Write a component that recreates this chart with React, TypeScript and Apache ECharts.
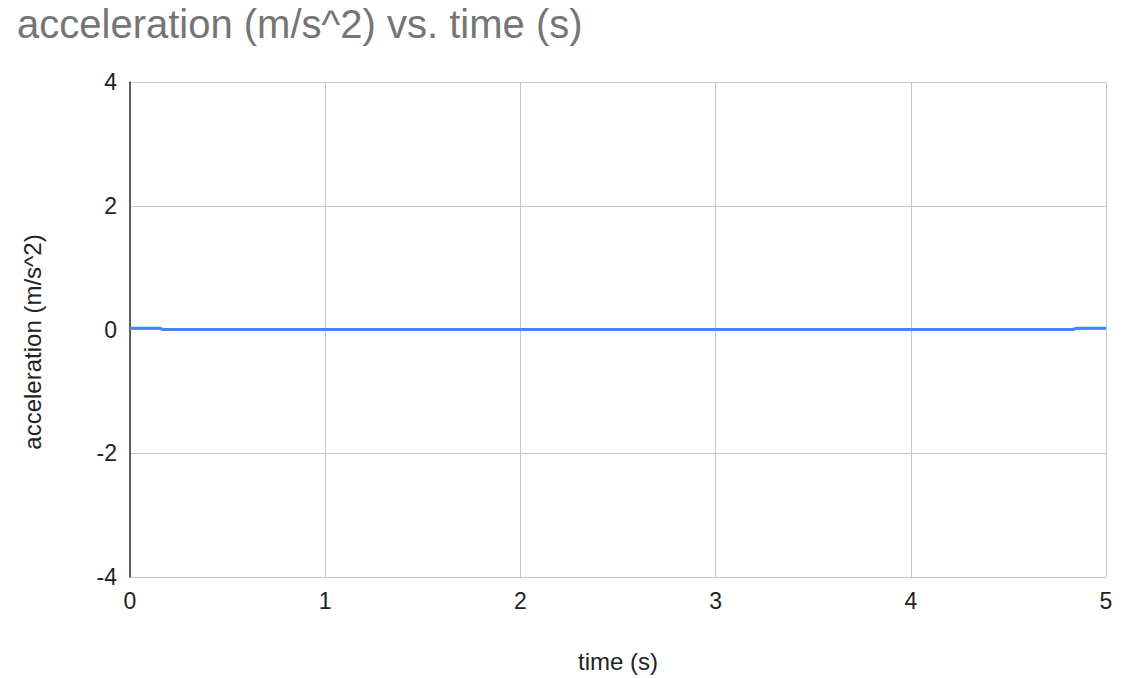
import React, { useEffect, useRef } from "react";
import * as echarts from "echarts";

const titleText = "acceleration (m/s^2) vs. time (s)";
const xName = "time (s)";
const yName = "acceleration (m/s^2)";
const times = [0, 0.15, 0.17, 4.83, 4.85, 5];
const accel = [0.02, 0.02, 0, 0, 0.02, 0.02];

const FONT = "'Liberation Sans', Arial, sans-serif";

export default function App() {
  const ref = useRef<HTMLDivElement>(null);
  useEffect(() => {
    if (!ref.current) return;
    const chart = echarts.init(ref.current, null, { renderer: "svg" });
    chart.setOption({
      animation: false,
      backgroundColor: "#fff",
      title: {
        text: titleText,
        left: 17,
        top: 4,
        padding: 0,
        textStyle: { fontFamily: FONT, fontSize: 40, fontWeight: "normal", color: "#757575" },
      },
      grid: { left: 130, right: 19, top: 82, bottom: 101, containLabel: false },
      xAxis: {
        type: "value",
        min: 0,
        max: 5,
        interval: 1,
        name: xName,
        nameLocation: "middle",
        nameGap: 72,
        nameTextStyle: { fontFamily: FONT, fontSize: 24, color: "#222" },
        axisLine: { show: false },
        axisTick: { show: false },
        axisLabel: { fontFamily: FONT, fontSize: 23, color: "#222", margin: 12 },
        splitLine: { show: true, lineStyle: { color: "#c8c8c8", width: 1 } },
      },
      yAxis: {
        type: "value",
        min: -4,
        max: 4,
        interval: 2,
        axisLine: { show: true, onZero: false, lineStyle: { color: "#333", width: 1.5 } },
        axisTick: { show: false },
        axisLabel: { fontFamily: FONT, fontSize: 23, color: "#222", margin: 13 },
        splitLine: { show: true, lineStyle: { color: "#c8c8c8", width: 1 } },
      },
      graphic: [
        {
          type: "text",
          x: 32,
          y: 342,
          rotation: Math.PI / 2,
          style: {
            text: yName,
            fontFamily: FONT,
            fontSize: 24,
            fill: "#222",
            align: "center",
            verticalAlign: "middle",
          },
        },
      ],
      series: [
        {
          type: "line",
          data: times.map((t, i) => [t, accel[i]]),
          showSymbol: false,
          lineStyle: { color: "#4285F4", width: 3 },
          itemStyle: { color: "#4285F4" },
        },
      ],
    });
    return () => chart.dispose();
  }, []);
  return <div ref={ref} style={{ width: 1125, height: 678, position: "absolute", left: 0, top: 0 }} />;
}
